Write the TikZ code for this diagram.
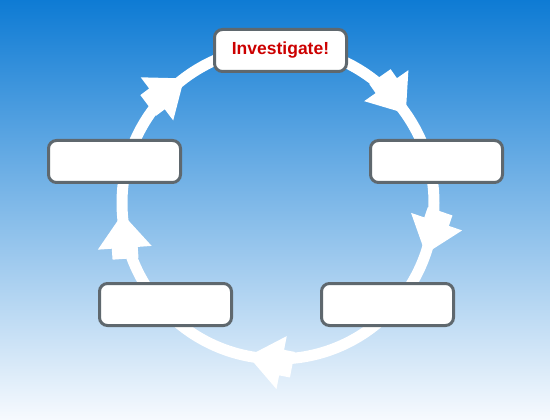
\documentclass[tikz,border=0pt]{standalone}
\usepackage{fontspec}
\setmainfont{Liberation Sans}
\usetikzlibrary{calc}
\definecolor{bgtop}{RGB}{14,123,212}
\definecolor{bgmid}{RGB}{112,176,230}
\definecolor{bgbot}{RGB}{247,250,254}
\definecolor{boxline}{RGB}{95,104,110}
\definecolor{txtred}{RGB}{204,0,0}
\tikzset{
  stepbox/.style={draw=boxline, line width=3pt, fill=white, rounded corners=8pt,
    minimum width=132pt, minimum height=42pt, inner sep=0pt},
  ring/.style={draw=white, line width=11pt},
  ringarrow/.pic={
    \fill[white] (0,0) -- (-34,27) -- (-34,13) -- (-45,13) -- (-45,-13)
      -- (-34,-13) -- (-34,-27) -- cycle;
  }
}
\begin{document}
\begin{tikzpicture}[x=1pt,y=1pt]
\useasboundingbox (0,0) rectangle (550,-420);
\shade[top color=bgtop, middle color=bgmid, bottom color=bgbot] (0,0) rectangle (550,-420);
\coordinate (c) at (278,-203);
\draw[ring] (c) circle (156);
\path (c) ++(127:156) pic[rotate=37]{ringarrow};
\path (c) ++(35:156) pic[rotate=-55]{ringarrow};
\path (c) ++(-19:156) pic[rotate=-109]{ringarrow};
\path (c) ++(-101:156) pic[rotate=-191]{ringarrow};
\path (c) ++(184:156) pic[rotate=94]{ringarrow};
\node[stepbox] (top) at (280.5,-50.5) {\fontsize{17.5}{20}\selectfont\bfseries\color{txtred}Investigate!};
\node[stepbox] (left) at (114.5,-161.5) {};
\node[stepbox] (right) at (436.5,-161.5) {};
\node[stepbox] (botleft) at (165.5,-304.5) {};
\node[stepbox] (botright) at (387.5,-304.5) {};
\end{tikzpicture}
\end{document}
